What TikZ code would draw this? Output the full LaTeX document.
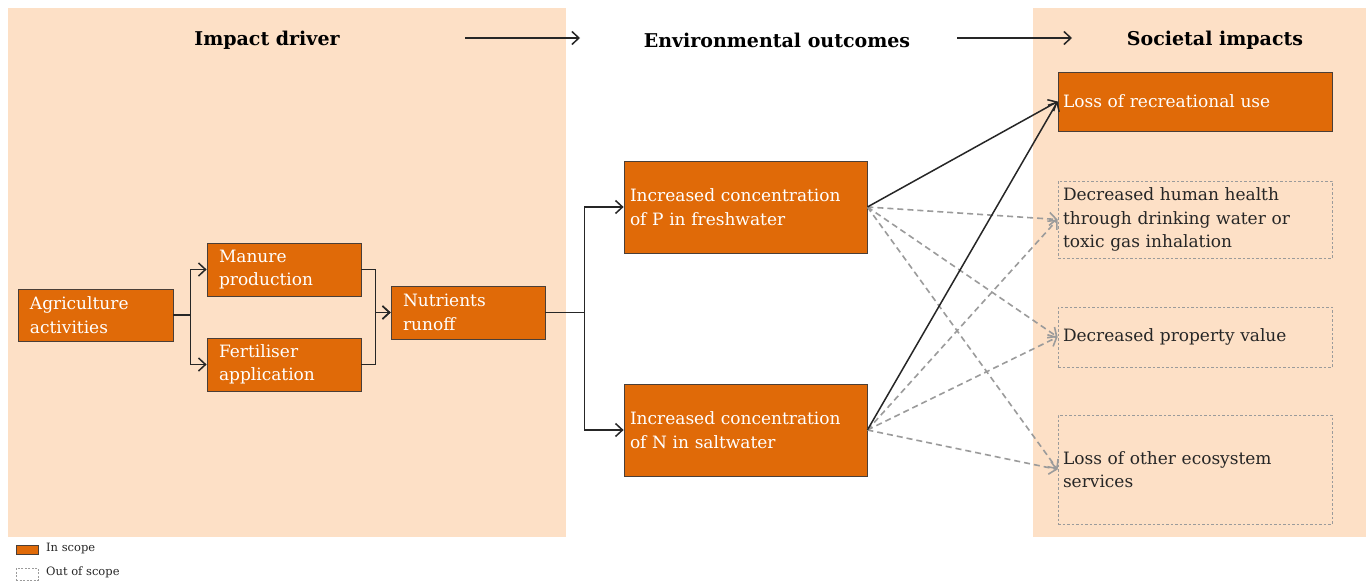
\documentclass[tikz,border=0pt]{standalone}
\usepackage{fontspec}
\setmainfont{DejaVu Serif}
\usetikzlibrary{arrows.meta}
\definecolor{peach}{HTML}{FDE0C6}
\definecolor{scope}{HTML}{E06A08}
\definecolor{edge}{HTML}{4A3F38}
\definecolor{oos}{HTML}{9B9B9B}
\definecolor{ink}{HTML}{262626}
\newcommand{\boxfont}{\fontsize{17}{23.5}\selectfont}
\newcommand{\headfont}{\fontsize{19}{22}\selectfont\bfseries}
\begin{document}
\begin{tikzpicture}[x=1pt,y=-1pt,
  inbox/.style={draw=edge, line width=0.8pt, fill=scope, text=white, font=\boxfont,
    align=left, inner xsep=12pt, inner ysep=0pt},
  outbox/.style={draw=oos, line width=0.8pt, dash pattern=on 2.5pt off 2pt, text=ink,
    font=\boxfont, align=left, inner xsep=5pt, inner ysep=0pt},
  head/.style={font=\headfont, text=black, inner sep=0pt},
  flow/.style={draw=ink, line width=1.5pt, -{Straight Barb[length=7pt,width=13pt,line width=1.5pt]}},
  maybe/.style={draw=oos, line width=1.6pt, dash pattern=on 6pt off 4pt,
    -{Straight Barb[length=7pt,width=13pt,line width=1.6pt]}},
  legend/.style={font=\fontsize{11.5}{13}\selectfont, text=ink, anchor=west, inner sep=0pt}]
\useasboundingbox (0,0) rectangle (1369,583);
\fill[white] (0,0) rectangle (1369,583);

% shaded columns
\fill[peach] (8,8) rectangle (566,537);
\fill[peach] (1033,8) rectangle (1366,537);

% column headings
\node[head] (hdriver) at (267,40) {Impact driver};
\node[head] (hout) at (777,40) {Environmental outcomes};
\node[head] (hsoc) at (1215,40) {Societal impacts};
\coordinate (a1s) at (465,38);
\coordinate (a1e) at (580,38);
\coordinate (a2s) at (957,38);
\coordinate (a2e) at (1072,38);
\draw[flow, line width=1.3pt] (a1s) -- (a1e);
\draw[flow, line width=1.3pt] (a2s) -- (a2e);

% impact driver chain
\node[inbox, minimum width=155pt, minimum height=52pt, text width=131pt] (agri) at (95.5,315) {Agriculture\\activities};
\node[inbox, minimum width=154pt, minimum height=53pt, text width=130pt] (manure) at (284,269.5) {Manure\\production};
\node[inbox, minimum width=154pt, minimum height=53pt, text width=130pt] (fert) at (284,364.5) {Fertiliser\\application};
\node[inbox, minimum width=154pt, minimum height=53pt, text width=130pt] (nutr) at (468,312.5) {Nutrients\\runoff};

% environmental outcomes
\node[inbox, inner xsep=6pt, minimum width=243pt, minimum height=92pt, text width=231pt] (incp) at (745.5,207) {Increased concentration\\of P in freshwater};
\node[inbox, inner xsep=6pt, minimum width=243pt, minimum height=92pt, text width=231pt] (incn) at (745.5,430) {Increased concentration\\of N in saltwater};

% societal impacts
\node[inbox, inner xsep=5pt, minimum width=274pt, minimum height=59pt, text width=264pt] (rec) at (1195,101.5) {Loss of recreational use};
\node[outbox, minimum width=274pt, minimum height=77pt, text width=264pt] (health) at (1195,219.5) {Decreased human health\\through drinking water or\\toxic gas inhalation};
\node[outbox, minimum width=274pt, minimum height=60pt, text width=264pt] (prop) at (1195,337) {Decreased property value};
\node[outbox, minimum width=274pt, minimum height=109pt, text width=264pt] (eco) at (1195,469.5) {Loss of other ecosystem\\services};

% driver connectors
\draw[flow] (agri.east) -- ++(17,0) |- (manure.west);
\draw[flow] (agri.east) -- ++(17,0) |- (fert.west);
\draw[flow] (manure.east) -- ++(14,0) |- (nutr.west);
\draw[flow] (fert.east) -- ++(14,0) |- (nutr.west);
\draw[flow] (nutr.east) -- ++(39,0) |- (incp.west);
\draw[flow] (nutr.east) -- ++(39,0) |- (incn.west);

% outcome to impact connectors
\draw[maybe] (incp.east) -- (health.west);
\draw[maybe] (incp.east) -- (prop.west);
\draw[maybe] (incp.east) -- (eco.west);
\draw[maybe] (incn.east) -- (health.west);
\draw[maybe] (incn.east) -- (prop.west);
\draw[maybe] (incn.east) -- (eco.west);
\draw[flow] (incp.east) -- (rec.west);
\draw[flow] (incn.east) -- (rec.west);

% legend
\node[draw=edge, line width=0.5pt, fill=scope, minimum width=22pt, minimum height=9pt, inner sep=0pt] (lgin) at (27,549.5) {};
\node[legend] (lgintxt) at (46,548.5) {In scope};
\node[draw=oos, line width=0.5pt, dash pattern=on 2pt off 1.5pt, minimum width=22pt, minimum height=12pt, inner sep=0pt] (lgout) at (27,574) {};
\node[legend] (lgouttxt) at (46,572.5) {Out of scope};
\end{tikzpicture}
\end{document}
